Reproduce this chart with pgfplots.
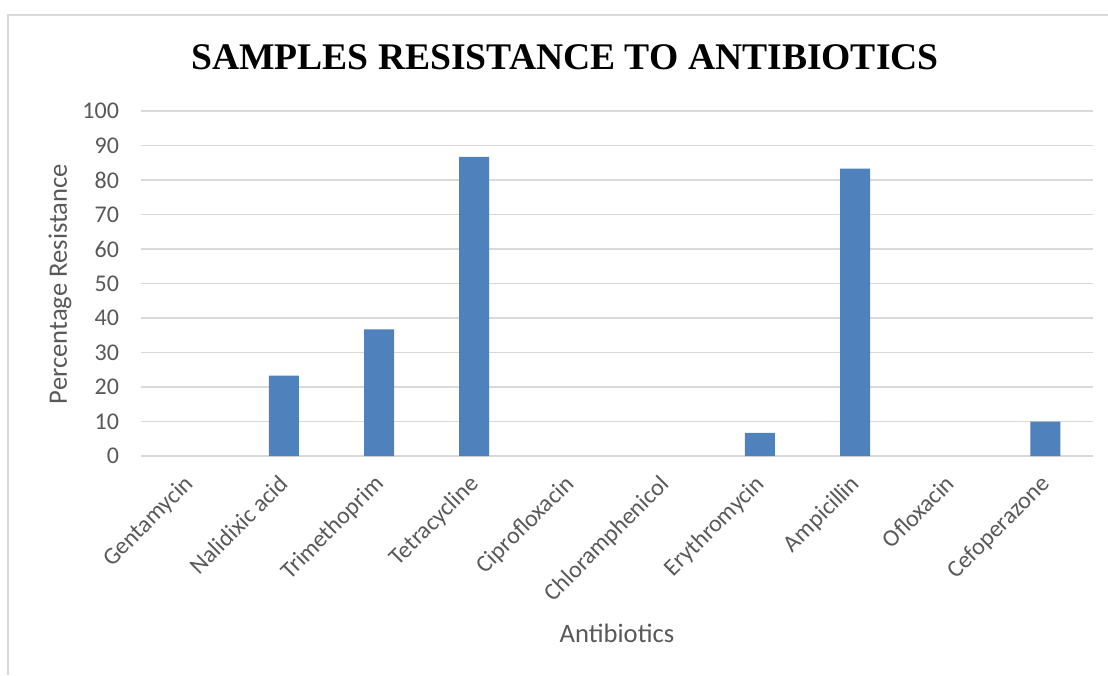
\documentclass[border=0pt]{standalone}
\usepackage{fontspec}
\setmainfont{Carlito}
\newfontfamily\titlefont{Liberation Serif}
\usepackage{pgfplots}
\pgfplotsset{compat=1.18}
\definecolor{barblue}{HTML}{4F81BD}
\definecolor{gridgray}{HTML}{D9D9D9}
\definecolor{textgray}{HTML}{595959}
\begin{document}
\begin{tikzpicture}
\path[use as bounding box] (0pt,0pt) rectangle (554pt,337.5pt);
\fill[white] (0pt,0pt) rectangle (554pt,337.5pt);
\draw[gridgray, line width=0.8pt] (4pt,0pt) -- (4pt,330pt) -- (554pt,330pt);
\node[font=\titlefont\bfseries\fontsize{18.8}{22}\selectfont] at (282.5pt,309pt) {SAMPLES RESISTANCE TO ANTIBIOTICS};
\begin{axis}[
  at={(94.3pt,109.5pt)}, anchor=origin, scale only axis,
  width=476pt, height=172.5pt,
  xmin=-0.5, xmax=9.5, ymin=0, ymax=100,
  ytick={0,10,...,100},
  xtick={0,1,...,9},
  xticklabels={Gentamycin,Nalidixic acid,Trimethoprim,Tetracycline,Ciprofloxacin,Chloramphenicol,Erythromycin,Ampicillin,Ofloxacin,Cefoperazone},
  /pgf/number format/assume math mode=true,
  ticklabel style={font=\fontsize{12}{14}\selectfont, text=textgray},
  yticklabel style={xshift=-7.5pt},
  xticklabel style={xshift=-3pt, yshift=0.5pt, rotate=45, anchor=north east},
  axis line style={draw=none},
  tick style={draw=none},
  ymajorgrids, grid style={gridgray, line width=0.8pt},
  ybar, bar width=15pt,
]
\addplot[fill=barblue, draw=none, y filter/.expression={y==0 ? nan : y}, unbounded coords=discard] coordinates {(0,0) (1,23.33) (2,36.67) (3,86.67) (4,0) (5,0) (6,6.67) (7,83.33) (8,0) (9,10)};
\end{axis}
\node[rotate=90, font=\fontsize{13.3}{15}\selectfont, text=textgray] at (30pt,195.5pt) {Percentage Resistance};
\node[font=\fontsize{13.3}{15}\selectfont, text=textgray] at (308.5pt,21pt) {Antibiotics};
\end{tikzpicture}
\end{document}
